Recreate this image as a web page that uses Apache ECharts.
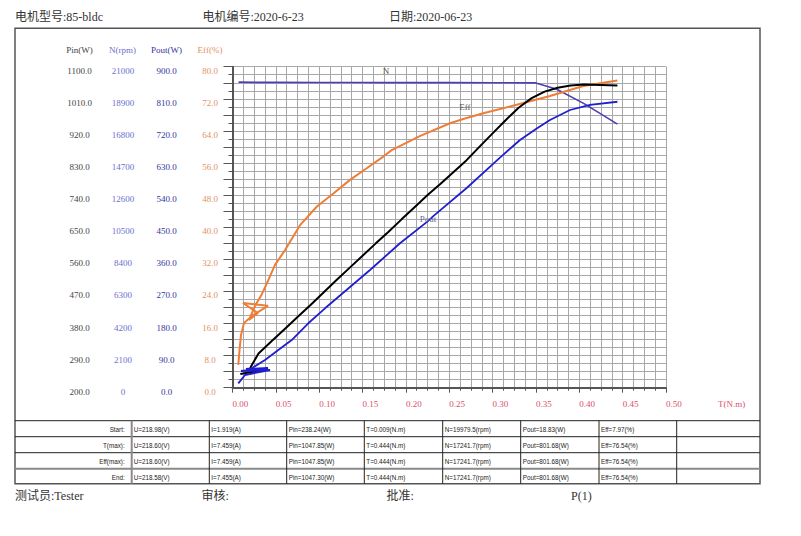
<!DOCTYPE html>
<html><head><meta charset="utf-8">
<script src="https://cdn.jsdelivr.net/npm/echarts@6/dist/echarts.min.js"></script>
<style>html,body{margin:0;padding:0;background:#fff}#c{width:801px;height:536px}</style>
</head><body><div id="c"></div>
<script>
// ---------- data ----------
const headerTexts = ['电机型号:85-bldc', '电机编号:2020-6-23', '日期:2020-06-23'];
const footerTexts = ['测试员:Tester', '审核:', '批准:', 'P(1)'];
const axisTitles = ['Pin(W)', 'N(rpm)', 'Pout(W)', 'Eff(%)'];
const xAxisName = 'T(N.m)';

// [T (N.m), value]
const nData = [[0.007,19990],[0.043,19985],[0.010,19982],[0.040,19979],[0.009,19979.5],[0.05,19975],[0.10,19968],[0.15,19962],[0.177,19960],[0.20,19958],[0.25,19955],[0.30,19952],[0.349,19945],[0.374,19520],[0.405,18600],[0.444,17242]];
const pinData = [[0.009,238.2],[0.022,244],[0.035,248],[0.020,250],[0.021,258],[0.025,275],[0.030,296],[0.045,330],[0.060,364],[0.075,398],[0.090,432],[0.105,467],[0.120,502],[0.135,536],[0.150,570],[0.165,604],[0.180,637],[0.195,672],[0.210,706],[0.225,740],[0.240,772],[0.255,805],[0.270,838],[0.285,876],[0.300,913],[0.315,950],[0.330,985],[0.345,1012],[0.360,1030],[0.375,1041],[0.390,1047],[0.405,1050],[0.425,1049],[0.444,1047.3]];
const poutData = [[0.0067,12.3],[0.0144,35.6],[0.0433,49.6],[0.0098,46.8],[0.041,55.2],[0.0156,52.4],[0.0221,54.4],[0.0375,77.7],[0.0528,105.7],[0.0683,133.7],[0.0874,180.6],[0.1067,222.6],[0.1586,330],[0.1932,405],[0.2255,467],[0.2316,481],[0.2701,560],[0.3085,645],[0.3316,694.5],[0.3509,727],[0.3662,750.6],[0.3893,778.6],[0.4123,792.7],[0.444,801.68]];
const effData = [[0.0067,5.7],[0.0081,9.4],[0.0098,13.1],[0.0133,16.1],[0.0225,17.9],[0.0409,20.4],[0.0121,21.1],[0.0294,18.6],[0.0190,16.9],[0.0260,20.4],[0.0329,22.9],[0.0409,26.6],[0.049,30.6],[0.0606,34.3],[0.0779,40.5],[0.0971,45.1],[0.1163,48.4],[0.1355,51.8],[0.1548,54.7],[0.1739,57.6],[0.1836,59.2],[0.216,62.7],[0.2509,65.9],[0.268,67.1],[0.2893,68.4],[0.3278,70.5],[0.3662,72.7],[0.4046,75.2],[0.4277,76.0],[0.444,76.54]];

// which point carries the curve's name label
const curveLabelAt = { N: 8, Pout: 14, Eff: 23 };

const tableRowNames = ['Start:', 'T(max):', 'Eff(max):', 'End:'];
const tableU   = ['U=218.98(V)', 'U=218.60(V)', 'U=218.60(V)', 'U=218.58(V)'];
const tableI   = ['I=1.919(A)', 'I=7.459(A)', 'I=7.459(A)', 'I=7.455(A)'];
const tablePin = ['Pin=238.24(W)', 'Pin=1047.85(W)', 'Pin=1047.85(W)', 'Pin=1047.30(W)'];
const tableT   = ['T=0.009(N.m)', 'T=0.444(N.m)', 'T=0.444(N.m)', 'T=0.444(N.m)'];
const tableN   = ['N=19979.5(rpm)', 'N=17241.7(rpm)', 'N=17241.7(rpm)', 'N=17241.7(rpm)'];
const tablePout= ['Pout=18.83(W)', 'Pout=801.68(W)', 'Pout=801.68(W)', 'Pout=801.68(W)'];
const tableEff = ['Eff=7.97(%)', 'Eff=76.54(%)', 'Eff=76.54(%)', 'Eff=76.54(%)'];

// ---------- styling / layout ----------
const SERIF = 'Liberation Serif, Noto Sans CJK SC';
const SANS = 'Liberation Sans, Arial';
const C = { pin:'#000000', n:'#4b3fb5', pout:'#1f1fcf', eff:'#ef7d36',
            pinTxt:'#444444', nTxt:'#6e6ed0', poutTxt:'#35359f', effTxt:'#e39164', xTxt:'#d9506a',
            grid:'#a8a8a8', axis:'#555555' };
const frame = { x:15, y:28.3, w:745, h:455.4 };
const tableTop = 420.7, rowH = 16;
const colX = [15,131.7,209.3,286.7,364.3,442.7,520.7,599,676.7,760];

function withLabel(data, idx, text, color, dist) {
  return data.map((p, i) => i === idx
    ? { value: p, label: { show: true, formatter: text, position: 'top', distance: dist,
        color: color, fontFamily: SERIF, fontSize: 9 } }
    : p);
}

function yLabel(fmt, margin, color) {
  return { formatter: fmt, align: 'center', verticalAlign: 'top', lineHeight: 8, margin, color,
           fontFamily: SERIF, fontSize: 9 };
}

function yAxisBase(min, max, interval, margin, color, fmt) {
  return {
    type: 'value', position: 'left', min, max, interval,
    axisLine: { show: false, onZero: false }, axisTick: { show: false },
    splitLine: { show: false },
    axisLabel: yLabel(fmt, margin, color)
  };
}

const effAxis = {
  type: 'value', position: 'left', min: 0, max: 80, interval: 4,
  axisLine: { show: true, onZero: false, lineStyle: { color: C.axis, width: 2 } },
  axisTick: { show: true, length: 9, lineStyle: { color: C.axis } },
  minorTick: { show: true, splitNumber: 2, length: 4, lineStyle: { color: C.axis } },
  splitLine: { show: true, lineStyle: { color: C.grid, width: 1 } },
  minorSplitLine: { show: true, lineStyle: { color: C.grid, width: 1 } },
  axisLabel: yLabel(v => (v % 8 === 0 ? v.toFixed(1) : ''), 22.5, C.effTxt)
};

const graphics = [];
graphics.push({ type: 'rect', shape: { x: frame.x, y: frame.y, width: frame.w, height: frame.h },
  style: { fill: 'none', stroke: '#555', lineWidth: 1.5 }, silent: true });
// table lines
for (let i = 0; i < 4; i++) {
  const y = tableTop + i * rowH;
  graphics.push({ type: 'line', shape: { x1: frame.x, y1: y, x2: frame.x + frame.w, y2: y },
    style: { stroke: i === 3 ? '#8a8a8a' : '#222', lineWidth: i === 3 ? 2 : 1 }, silent: true });
}
for (let c = 1; c < colX.length - 1; c++) {
  graphics.push({ type: 'line', shape: { x1: colX[c], y1: tableTop, x2: colX[c], y2: frame.y + frame.h },
    style: { stroke: c === 1 ? '#8a8a8a' : '#222', lineWidth: c === 1 ? 2 : 1 }, silent: true });
}
const tableCols = [tableU, tableI, tablePin, tableT, tableN, tablePout, tableEff];
for (let r = 0; r < 4; r++) {
  const yc = tableTop + r * rowH + rowH / 2 + 0.5;
  graphics.push({ type: 'text', x: colX[1] - 7, y: yc, silent: true,
    style: { text: tableRowNames[r], fill: '#222', font: '6.3px ' + SANS, textAlign: 'right', textVerticalAlign: 'middle' } });
  tableCols.forEach((col, ci) => {
    graphics.push({ type: 'text', x: colX[ci + 1] + 2, y: yc, silent: true,
      style: { text: col[r], fill: '#222', font: '6.3px ' + SANS, textAlign: 'left', textVerticalAlign: 'middle' } });
  });
}
// header / footer
const headerX = [15, 202.5, 389];
headerTexts.forEach((t, i) => graphics.push({ type: 'text', x: headerX[i], y: 16.5, silent: true,
  style: { text: t, fill: '#333', font: '12px ' + SERIF, textAlign: 'left', textVerticalAlign: 'middle' } }));
const footerX = [15, 201.5, 386.5, 571];
footerTexts.forEach((t, i) => graphics.push({ type: 'text', x: footerX[i], y: 495.5, silent: true,
  style: { text: t, fill: '#333', font: '12px ' + SERIF, textAlign: 'left', textVerticalAlign: 'middle' } }));
// axis column titles
const titleX = [79.5, 122.5, 166.5, 210];
const titleColors = [C.pinTxt, C.nTxt, C.poutTxt, C.effTxt];
axisTitles.forEach((t, i) => graphics.push({ type: 'text', x: titleX[i], y: 50, silent: true,
  style: { text: t, fill: titleColors[i], font: '9px ' + SERIF, textAlign: 'center', textVerticalAlign: 'middle' } }));

const chart = echarts.init(document.getElementById('c'), null, { renderer: 'svg', width: 801, height: 536 });
chart.setOption({
  animation: false,
  backgroundColor: '#ffffff',
  grid: { left: 232.5, top: 66.7, right: 135, bottom: 148.3, containLabel: false },
  xAxis: {
    type: 'value', min: 0, max: 0.5, interval: 0.05,
    axisLine: { onZero: false, lineStyle: { color: C.axis, width: 2 } },
    axisTick: { length: 5, lineStyle: { color: C.axis } },
    minorTick: { show: true, splitNumber: 4, length: 3, lineStyle: { color: C.axis } },
    splitLine: { show: true, lineStyle: { color: C.grid, width: 1 } },
    minorSplitLine: { show: true, lineStyle: { color: C.grid, width: 1 } },
    axisLabel: { formatter: v => v.toFixed(2), align: 'left', margin: 12, color: C.xTxt,
                 fontFamily: SERIF, fontSize: 9 },
    name: xAxisName, nameLocation: 'end', nameGap: 52,
    nameTextStyle: { color: C.xTxt, fontFamily: SERIF, fontSize: 9, verticalAlign: 'top',
                     lineHeight: 9, padding: [12, 0, 0, 0] }
  },
  yAxis: [
    effAxis,
    yAxisBase(0, 900, 90, 66, C.poutTxt, v => v.toFixed(1)),
    yAxisBase(0, 21000, 2100, 109.5, C.nTxt, v => String(v)),
    yAxisBase(200, 1100, 90, 153, C.pinTxt, v => v.toFixed(1))
  ],
  series: [
    { name: 'N', type: 'line', yAxisIndex: 2, data: withLabel(nData, curveLabelAt.N, 'N', '#555', 7),
      showSymbol: true, showAllSymbol: true, symbol: 'circle', symbolSize: 0,
      lineStyle: { color: C.n, width: 1.6 }, itemStyle: { color: C.n }, emphasis: { disabled: true }, z: 3 },
    { name: 'Pin', type: 'line', yAxisIndex: 3, data: pinData, showSymbol: false,
      lineStyle: { color: C.pin, width: 2 }, itemStyle: { color: C.pin }, emphasis: { disabled: true }, z: 4 },
    { name: 'Pout', type: 'line', yAxisIndex: 1, data: withLabel(poutData, curveLabelAt.Pout, 'Pout', '#6a6a9c', -2),
      showSymbol: true, showAllSymbol: true, symbol: 'circle', symbolSize: 0,
      lineStyle: { color: C.pout, width: 1.8 }, itemStyle: { color: C.pout }, emphasis: { disabled: true }, z: 4 },
    { name: 'Eff', type: 'line', yAxisIndex: 0, data: withLabel(effData, curveLabelAt.Eff, 'Eff', '#555', 7),
      showSymbol: true, showAllSymbol: true, symbol: 'circle', symbolSize: 0,
      lineStyle: { color: C.eff, width: 2 }, itemStyle: { color: C.eff }, emphasis: { disabled: true }, z: 3 }
  ],
  graphic: graphics
});
</script></body></html>
